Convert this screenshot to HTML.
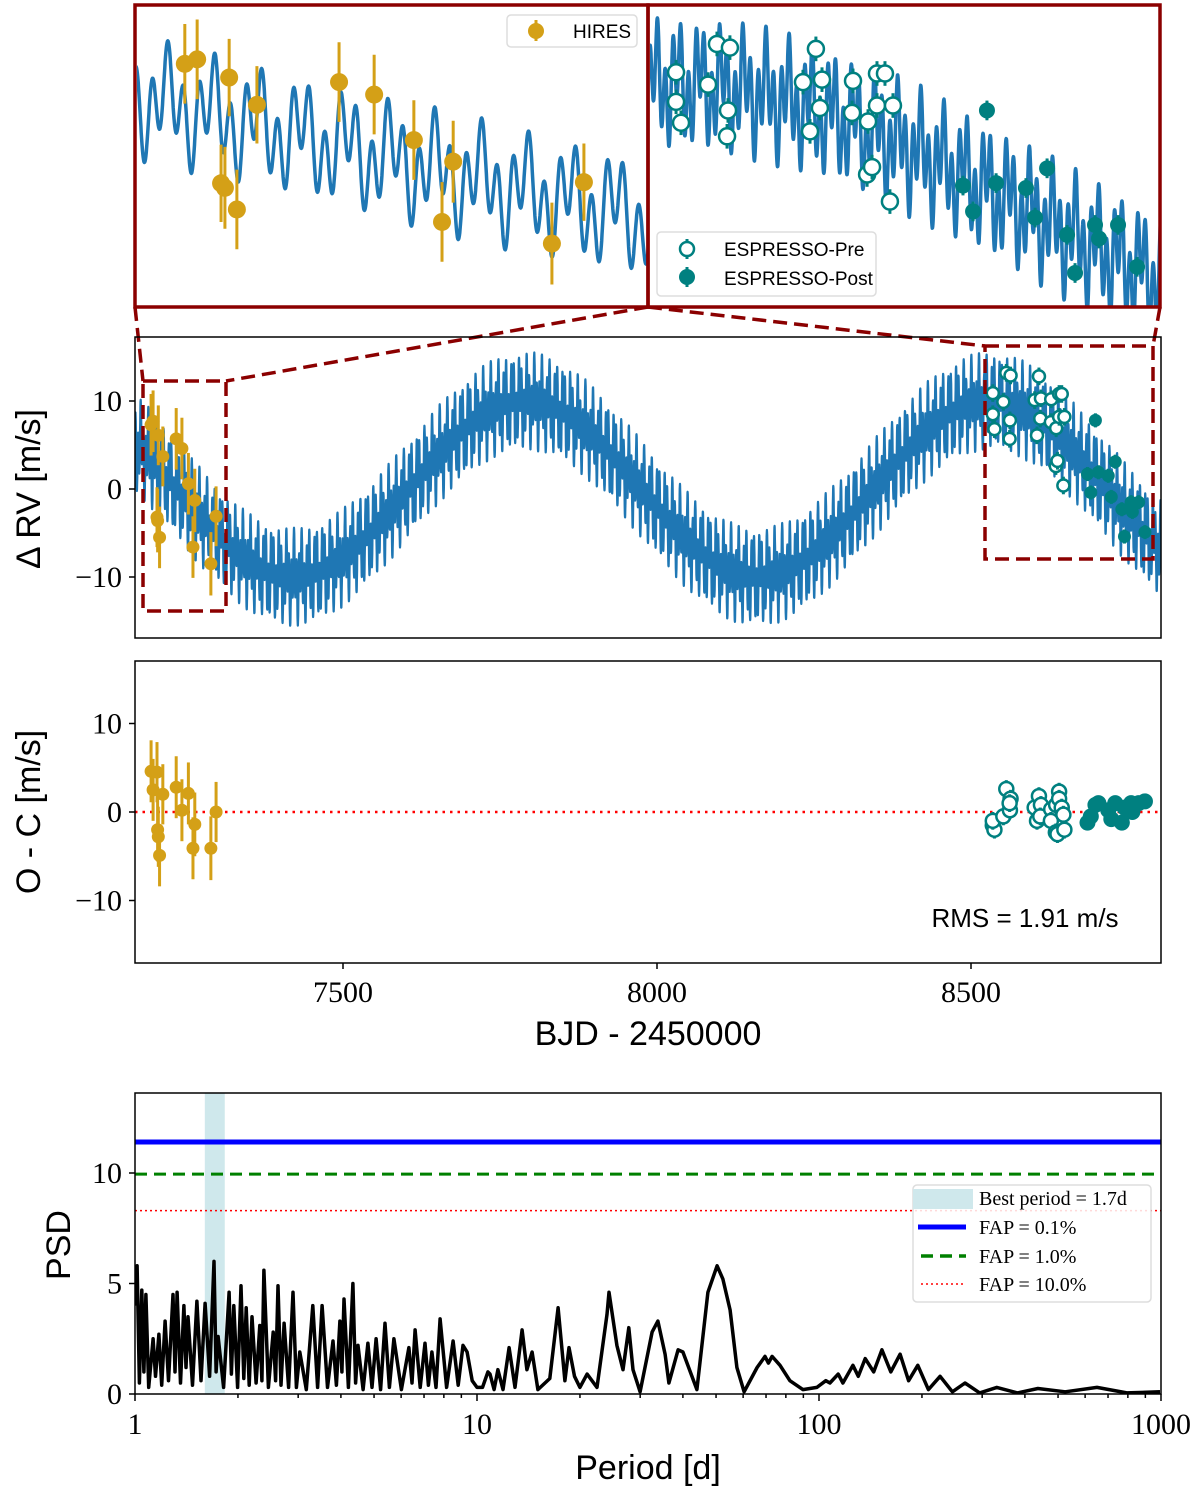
<!DOCTYPE html>
<html><head><meta charset="utf-8"><style>
html,body{margin:0;padding:0;background:#fff;}
svg{display:block;}
.tk{font-family:"Liberation Serif",serif;font-size:30px;fill:#000;}
.lab{font-family:"Liberation Sans",sans-serif;font-size:34px;fill:#000;}
.lg{font-family:"Liberation Sans",sans-serif;font-size:19px;fill:#000;}
.lgs{font-family:"Liberation Serif",serif;font-size:20px;fill:#000;}
</style></head><body>
<svg id="fig" width="1200" height="1497" viewBox="0 0 1200 1497" xmlns="http://www.w3.org/2000/svg">
<defs>
<clipPath id="cTL"><rect x="137" y="7" width="510" height="299"/></clipPath>
<clipPath id="cTR"><rect x="650" y="7" width="509" height="299"/></clipPath>
<clipPath id="cMid"><rect x="135" y="337" width="1026" height="301"/></clipPath>
<clipPath id="cOC"><rect x="135" y="661" width="1026" height="302"/></clipPath>
<clipPath id="cPSD"><rect x="135" y="1093" width="1026" height="301"/></clipPath>
</defs>
<g id="gTL" clip-path="url(#cTL)"></g>
<g id="gTR" clip-path="url(#cTR)"></g>
<rect x="135" y="5" width="513" height="302" fill="none" stroke="#8b0000" stroke-width="3.5"/>
<rect x="648" y="5" width="512" height="302" fill="none" stroke="#8b0000" stroke-width="3.5"/>
<g>
<rect x="507" y="15" width="130" height="32" rx="4" fill="#fff" stroke="#ddd" stroke-width="1.5"/>
<line x1="536" y1="20" x2="536" y2="41" stroke="#d4a017" stroke-width="3"/>
<circle cx="536" cy="31" r="8" fill="#d4a017"/>
<text x="573" y="38" class="lg">HIRES</text>
</g>
<g>
<rect x="657" y="232" width="219" height="64" rx="4" fill="#fff" stroke="#ddd" stroke-width="1.5"/>
<line x1="687" y1="239" x2="687" y2="259" stroke="#008080" stroke-width="3"/>
<circle cx="687" cy="249" r="7" fill="#fff" stroke="#008080" stroke-width="2.5"/>
<line x1="687" y1="267" x2="687" y2="287" stroke="#008080" stroke-width="3"/>
<circle cx="687" cy="277" r="8" fill="#008080"/>
<text x="724" y="256" class="lg">ESPRESSO-Pre</text>
<text x="724" y="285" class="lg">ESPRESSO-Post</text>
</g>
<g stroke="#8b0000" stroke-width="3.5" stroke-dasharray="14,7" fill="none">
<line x1="135" y1="307" x2="143" y2="381"/><line x1="648" y1="307" x2="226" y2="381"/>
<line x1="648" y1="307" x2="985" y2="346"/><line x1="1160" y1="307" x2="1153" y2="346"/>
</g>
<g id="gMid" clip-path="url(#cMid)"></g>
<rect x="135" y="337" width="1026" height="301" fill="none" stroke="#000" stroke-width="1.5"/>
<rect x="143" y="381" width="83" height="230" fill="none" stroke="#8b0000" stroke-width="3.5" stroke-dasharray="14,7"/>
<rect x="985" y="346" width="168" height="213" fill="none" stroke="#8b0000" stroke-width="3.5" stroke-dasharray="14,7"/>
<g id="gOC" clip-path="url(#cOC)"></g>
<rect x="135" y="661" width="1026" height="302" fill="none" stroke="#000" stroke-width="1.5"/>
<text x="1025" y="927" text-anchor="middle" style="font-family:'Liberation Sans',sans-serif;font-size:26px">RMS = 1.91 m/s</text>
<g id="gPSD" clip-path="url(#cPSD)"></g>
<rect x="135" y="1093" width="1026" height="301" fill="none" stroke="#000" stroke-width="1.5"/>
<g>
<rect x="913" y="1185" width="238" height="117" rx="4" fill="#fff" fill-opacity="0.85" stroke="#ddd" stroke-width="1.5"/>
<rect x="913" y="1189" width="60" height="20" fill="#cfe8ec"/>
<text x="979" y="1205" class="lgs">Best period = 1.7d</text>
<line x1="918" y1="1227" x2="966" y2="1227" stroke="#0000ff" stroke-width="5"/>
<text x="979" y="1234" class="lgs">FAP = 0.1%</text>
<line x1="921" y1="1256" x2="966" y2="1256" stroke="#008000" stroke-width="3.5" stroke-dasharray="12,7"/>
<text x="979" y="1263" class="lgs">FAP = 1.0%</text>
<line x1="921" y1="1284" x2="966" y2="1284" stroke="#ff0000" stroke-width="1.5" stroke-dasharray="2,3"/>
<text x="979" y="1291" class="lgs">FAP = 10.0%</text>
</g>
<g id="gAx"></g>
<text transform="translate(40,489) rotate(-90)" text-anchor="middle" class="lab">Δ RV [m/s]</text>
<text transform="translate(40,812) rotate(-90)" text-anchor="middle" class="lab">O - C [m/s]</text>
<text x="648" y="1045" text-anchor="middle" class="lab">BJD - 2450000</text>
<text transform="translate(70,1245) rotate(-90)" text-anchor="middle" class="lab">PSD</text>
<text x="648" y="1479" text-anchor="middle" class="lab">Period [d]</text>
</svg>
<script>
// ---- data ----
const modelPeriods=[740,4.07,11.6];
const modelAmps=[10,3.3,2.3];
const modelEpochs=[8530,7190,7190];
const hiresT=[7194.4,7197.6,7203.8,7204.8,7205.9,7207.9,7213.1,7234.4,7243.5,7253.8,7261.1,7264.0,7289.6,7297.9];
const hiresRV=[7.3,7.7,-3.2,-3.6,6.1,-5.5,3.7,5.7,4.6,0.6,-6.6,-1.3,-8.5,-3.1];
const hiresErr=[3.5,3.5,3.4,3.6,3.4,3.5,3.4,3.5,3.5,3.5,3.5,3.6,3.6,3.4];
const hiresRes=[4.6,2.5,4.5,-2.0,-2.8,-4.9,2.0,2.8,0.2,2.1,-4.1,-1.4,-4.1,0.0];
const preT=[8534.7,8537.3,8534.7,8551.5,8556.2,8563.0,8562.0,8561.5,8601.4,8605.1,8608.2,8611.4,8610.3,8627.7,8627.2,8635.6,8635.1,8637.7,8640.3,8640.3,8644.5,8648.7,8647.1];
const preRV=[10.9,6.8,8.5,9.9,13.2,12.9,7.8,5.7,10.1,6.1,12.8,10.3,8.0,10.2,7.6,6.9,2.6,3.2,8.2,10.8,10.8,8.2,0.4];
const preRes=[-1.5,-2.0,-1.0,-0.5,2.6,1.5,0.2,1.0,0.5,-1.0,1.8,0.8,-0.5,0.3,-1.0,0.8,-2.3,-2.5,2.3,1.5,0.5,-2.0,-0.3];
const preErr=[1.0,1.0,1.0,1.0,1.0,1.0,1.0,1.0,1.0,1.0,1.0,1.0,1.0,1.0,1.0,1.0,1.0,1.0,1.0,1.0,1.0,1.0,1.0];
const postT=[8685.5,8690.8,8698.1,8702.9,8718.6,8723.4,8729.7,8740.2,8744.4,8754.9,8757.0,8767.0,8777.0];
const postRV=[1.7,-0.4,7.8,1.9,1.5,-0.9,3.1,-2.3,-5.4,-1.5,-2.6,-1.5,-4.9];
const postRes=[-1.2,-0.5,0.8,1.0,0.2,-0.8,1.0,-1.2,0.5,1.0,0.0,1.0,1.2];
const postErr=[0.8,0.8,0.8,0.8,0.8,0.8,0.8,0.8,0.8,0.8,0.8,0.8,0.8];
const psdLogP=[0.000,0.006,0.013,0.020,0.026,0.032,0.040,0.053,0.060,0.070,0.078,0.088,0.098,0.111,0.117,0.123,0.133,0.143,0.149,0.155,0.168,0.181,0.193,0.205,0.218,0.231,0.237,0.243,0.259,0.275,0.282,0.289,0.300,0.310,0.318,0.325,0.334,0.342,0.354,0.365,0.371,0.377,0.390,0.404,0.411,0.418,0.427,0.436,0.449,0.462,0.472,0.482,0.501,0.520,0.534,0.547,0.563,0.579,0.589,0.599,0.605,0.611,0.624,0.637,0.645,0.652,0.667,0.681,0.693,0.705,0.718,0.731,0.744,0.757,0.779,0.801,0.810,0.819,0.834,0.848,0.858,0.868,0.880,0.892,0.911,0.930,0.945,0.959,0.971,0.986,1.000,1.016,1.032,1.038,1.050,1.061,1.076,1.094,1.111,1.132,1.146,1.161,1.178,1.213,1.237,1.257,1.269,1.285,1.301,1.322,1.351,1.380,1.386,1.409,1.427,1.444,1.456,1.477,1.512,1.529,1.550,1.561,1.588,1.602,1.643,1.675,1.702,1.719,1.740,1.760,1.781,1.819,1.842,1.852,1.863,1.886,1.915,1.953,1.994,2.020,2.032,2.056,2.070,2.099,2.115,2.135,2.160,2.184,2.210,2.237,2.262,2.289,2.320,2.354,2.390,2.427,2.470,2.520,2.580,2.640,2.720,2.813,2.900,2.997];
const psdVal=[4.0,5.8,0.5,4.7,1.0,4.5,0.3,2.5,0.8,2.7,0.4,3.3,0.6,4.5,1.0,4.6,0.5,4.0,1.2,3.5,0.4,4.2,0.6,4.1,0.8,6.0,1.0,2.6,0.3,4.6,0.9,4.0,0.3,4.9,0.7,3.9,0.4,3.5,0.5,3.1,0.6,5.6,0.3,2.8,0.6,4.9,0.4,3.2,0.3,4.6,0.3,1.9,0.2,4.0,0.3,4.0,0.3,2.4,0.4,3.3,1.0,4.3,0.3,5.0,0.5,2.2,0.2,2.3,0.3,2.5,0.2,3.2,0.3,2.5,0.2,2.1,0.5,2.9,0.3,2.3,0.4,1.9,0.3,3.4,0.3,2.4,0.4,2.2,1.9,0.6,0.3,0.3,1.0,0.9,0.2,1.1,0.2,2.1,0.3,2.9,1.1,1.9,0.2,0.7,3.9,0.6,2.1,0.8,0.3,0.9,0.3,3.6,4.6,2.2,1.1,3.0,1.1,0.1,2.8,3.3,1.8,0.5,2.0,1.9,0.2,4.6,5.8,5.2,3.8,1.2,0.1,1.2,1.7,1.4,1.7,1.3,0.6,0.2,0.3,0.6,0.5,0.9,0.5,1.3,0.8,1.6,1.0,2.0,1.0,1.8,0.6,1.3,0.2,0.8,0.1,0.5,0.05,0.3,0.05,0.25,0.1,0.3,0.05,0.1];
const faps=[11.4,9.95,8.3];
const bestPeriodRange=[1.6,1.83];
const rvTicks=[-10,0,10];
const timeTicks=[7500,8000,8500];
const psdTicks=[0,5,10];
const periodTicks=[1,10,100,1000];

// ---- scales ----
const NS='http://www.w3.org/2000/svg';
const xMid=t=>343+(t-7500)*0.628;
const yMid=v=>489-v*8.8;
const yOC=v=>812-v*8.85;
const xTL=t=>137+(t-7182)*509/132;
const yTL=v=>7+(12.3-v)*298/26.2;
const xTR=t=>650+(t-8521)*508/267;
const yTR=v=>7+(16.2-v)*298/24.2;
const xPSD=lp=>135+lp*342;
const yPSD=p=>1394-p*22.1;
function model(t){let s=0;for(let i=0;i<modelPeriods.length;i++)s+=modelAmps[i]*Math.cos(2*Math.PI*(t-modelEpochs[i])/modelPeriods[i]);return s;}
function mk(tag,at,par){const e=document.createElementNS(NS,tag);for(const k in at)e.setAttribute(k,at[k]);par.appendChild(e);return e;}

function curve(g,t0,t1,step,xf,yf,w){let d='';for(let t=t0;t<=t1;t+=step){d+=(d?'L':'M')+xf(t).toFixed(1)+','+yf(model(t)).toFixed(1);}
 const p=mk('path',{d:d,fill:'none',stroke:'#1f77b4','stroke-width':w,'stroke-linejoin':'round'},g);
 
 }
function pts(g,T,V,E,xf,yf,col,open,r,name){for(let i=0;i<T.length;i++){const x=xf(T[i]);
  const l=mk('line',{x1:x,x2:x,y1:yf(V[i]-E[i]),y2:yf(V[i]+E[i]),stroke:col,'stroke-width':3},g);
  
  
  const c=mk('circle',{cx:x,cy:yf(V[i]),r:r,fill:open?'#fff':col,stroke:col,'stroke-width':open?2.5:0},g);
  
  }}

const gTL=document.getElementById('gTL'),gTR=document.getElementById('gTR'),gMid=document.getElementById('gMid'),gOC=document.getElementById('gOC'),gPSD=document.getElementById('gPSD'),gAx=document.getElementById('gAx');
curve(gTL,7175,7320,0.1,xTL,yTL,3.5);
pts(gTL,hiresT,hiresRV,hiresErr,xTL,yTL,'#d4a017',false,9,'hires');
curve(gTR,8515,8795,0.1,xTR,yTR,3.5);
pts(gTR,preT,preRV,preErr,xTR,yTR,'#008080',true,8,'espresso-pre');
pts(gTR,postT,postRV,postErr,xTR,yTR,'#008080',false,8,'espresso-post');
curve(gMid,7165,8805,0.2,xMid,yMid,2.2);
pts(gMid,hiresT,hiresRV,hiresErr,xMid,yMid,'#d4a017',false,6.5,'hires');
pts(gMid,preT,preRV,preErr,xMid,yMid,'#008080',true,6,'espresso-pre');
pts(gMid,postT,postRV,postErr,xMid,yMid,'#008080',false,6.5,'espresso-post');
const zl=mk('line',{x1:135,x2:1161,y1:yOC(0),y2:yOC(0),stroke:'#ff0000','stroke-width':2.5,'stroke-dasharray':'2.5,5'},gOC);


pts(gOC,hiresT,hiresRes,hiresErr,xMid,yOC,'#d4a017',false,6.5,'hires-residual');
pts(gOC,preT,preRes,preErr,xMid,yOC,'#008080',true,7,'espresso-pre-residual');
pts(gOC,postT,postRes,postErr,xMid,yOC,'#008080',false,8,'espresso-post-residual');

// periodogram
const band=mk('rect',{x:xPSD(Math.log10(bestPeriodRange[0])),y:1093,width:xPSD(Math.log10(bestPeriodRange[1]))-xPSD(Math.log10(bestPeriodRange[0])),height:301,fill:'#cfe8ec'},gPSD);


let d='';for(let i=0;i<psdLogP.length;i++)d+=(i?'L':'M')+xPSD(psdLogP[i]).toFixed(1)+','+yPSD(psdVal[i]).toFixed(1);
const pl=mk('path',{d:d,fill:'none',stroke:'#000','stroke-width':3.5,'stroke-linejoin':'round'},gPSD);


const fapStyles=[{stroke:'#0000ff','stroke-width':5},{stroke:'#008000','stroke-width':3,'stroke-dasharray':'12,7'},{stroke:'#ff0000','stroke-width':1.5,'stroke-dasharray':'2,3'}];
const fapNames=['fap-0.1-line','fap-1-line','fap-10-line'];
faps.forEach((f,i)=>{const a=Object.assign({x1:135,x2:1161,y1:yPSD(f),y2:yPSD(f)},fapStyles[i]);const l=mk('line',a,gPSD);
 
 });

// ticks
function tick(x1,y1,x2,y2){mk('line',{x1,y1,x2,y2,stroke:'#000','stroke-width':1.5},gAx);}
function lbl(x,y,s,anchor){const t=mk('text',{x:x,y:y,'text-anchor':anchor,class:'tk'},gAx);t.textContent=s;
 
 }
const fmt=v=>v<0?'\u2212'+(-v):String(v);
rvTicks.forEach(v=>{tick(129,yMid(v),135,yMid(v));lbl(122,yMid(v)+10,fmt(v),'end');tick(129,yOC(v),135,yOC(v));lbl(122,yOC(v)+10,fmt(v),'end');});
timeTicks.forEach(t=>{tick(xMid(t),963,xMid(t),969);lbl(xMid(t),1002,String(t),'middle');});
psdTicks.forEach(v=>{tick(129,yPSD(v),135,yPSD(v));lbl(122,yPSD(v)+10,String(v),'end');});
periodTicks.forEach(p=>{const x=xPSD(Math.log10(p));tick(x,1394,x,1401);lbl(x,1434,String(p),'middle');
 if(p<1000)for(let m=2;m<10;m++){const xm=xPSD(Math.log10(p*m));tick(xm,1394,xm,1398);}});
</script>
</body></html>
